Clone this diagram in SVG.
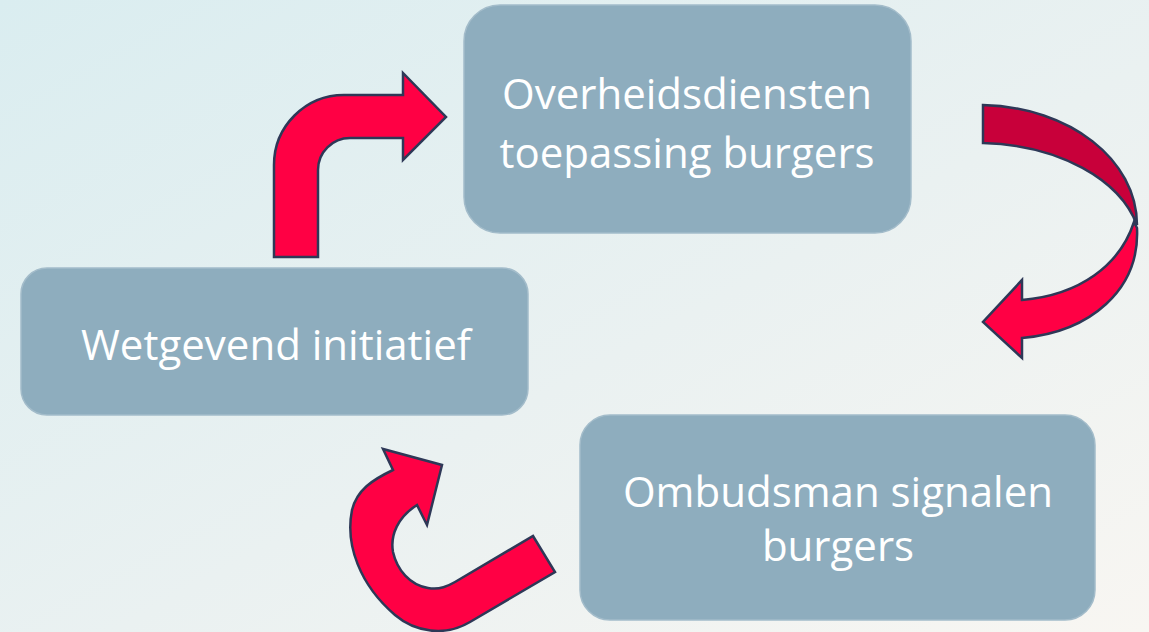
<svg xmlns="http://www.w3.org/2000/svg" width="1149" height="632" viewBox="0 0 1149 632">
<defs>
<linearGradient id="bg" x1="0" y1="0" x2="1" y2="1">
<stop offset="0" stop-color="#DAEDF0"/>
<stop offset="0.55" stop-color="#EAF1F1"/>
<stop offset="1" stop-color="#F8F6F2"/>
</linearGradient>
<style>
.box{fill:#8EADBE;stroke:#A3BCCA;stroke-width:1.5}
.lbl{fill:#FFFFFF;font-family:"Open Sans","Noto Sans",sans-serif;font-size:42px;text-anchor:middle}
.arr{fill:#FF0044;stroke:#2E3857;stroke-width:2.5;stroke-linejoin:miter}
.arrd{fill:#C8003A;stroke:#2E3857;stroke-width:2.5}
</style>
</defs>
<rect x="0" y="0" width="1149" height="632" fill="url(#bg)"/>
<g id="connectors">
<path class="arr" d="M274,257 V165 A70,70 0 0 1 344,95 H403 V73 L446,117 L403,160 V138 H350 A32,32 0 0 0 318,170 V257 Z"/>
<path class="arrd" d="M983,105 C1070,107 1137,160 1137,225 C1120,180 1060,145 983,143 Z"/>
<path class="arr" d="M1134,222 C1120,265 1080,295 1022,300 L1022,280 L983,322 L1022,358 L1022,338 C1090,332 1140,290 1137,228 Z"/>
<path class="arr" d="M533,536 L555,572 L470,622 C445,637 415,632 395,615 C360,585 345,545 352,510 C357,490 372,480 393,470 L383,449 L442,465 L427,525 L417,505 C398,517 390,535 393,552 C397,570 410,585 428,588 C440,590 448,586 455,582 Z"/>
</g>
<g id="node-overheidsdiensten">
<rect class="box" x="464" y="5" width="447" height="228" rx="36"/>
<text class="lbl" x="687" y="109">Overheidsdiensten</text>
<text class="lbl" x="687" y="168">toepassing burgers</text>
</g>
<g id="node-wetgevend">
<rect class="box" x="21" y="268" width="507" height="147" rx="26"/>
<text class="lbl" x="276" y="360">Wetgevend initiatief</text>
</g>
<g id="node-ombudsman">
<rect class="box" x="580" y="415" width="515" height="205" rx="30"/>
<text class="lbl" x="838" y="507">Ombudsman signalen</text>
<text class="lbl" x="838" y="561">burgers</text>
</g>
</svg>
